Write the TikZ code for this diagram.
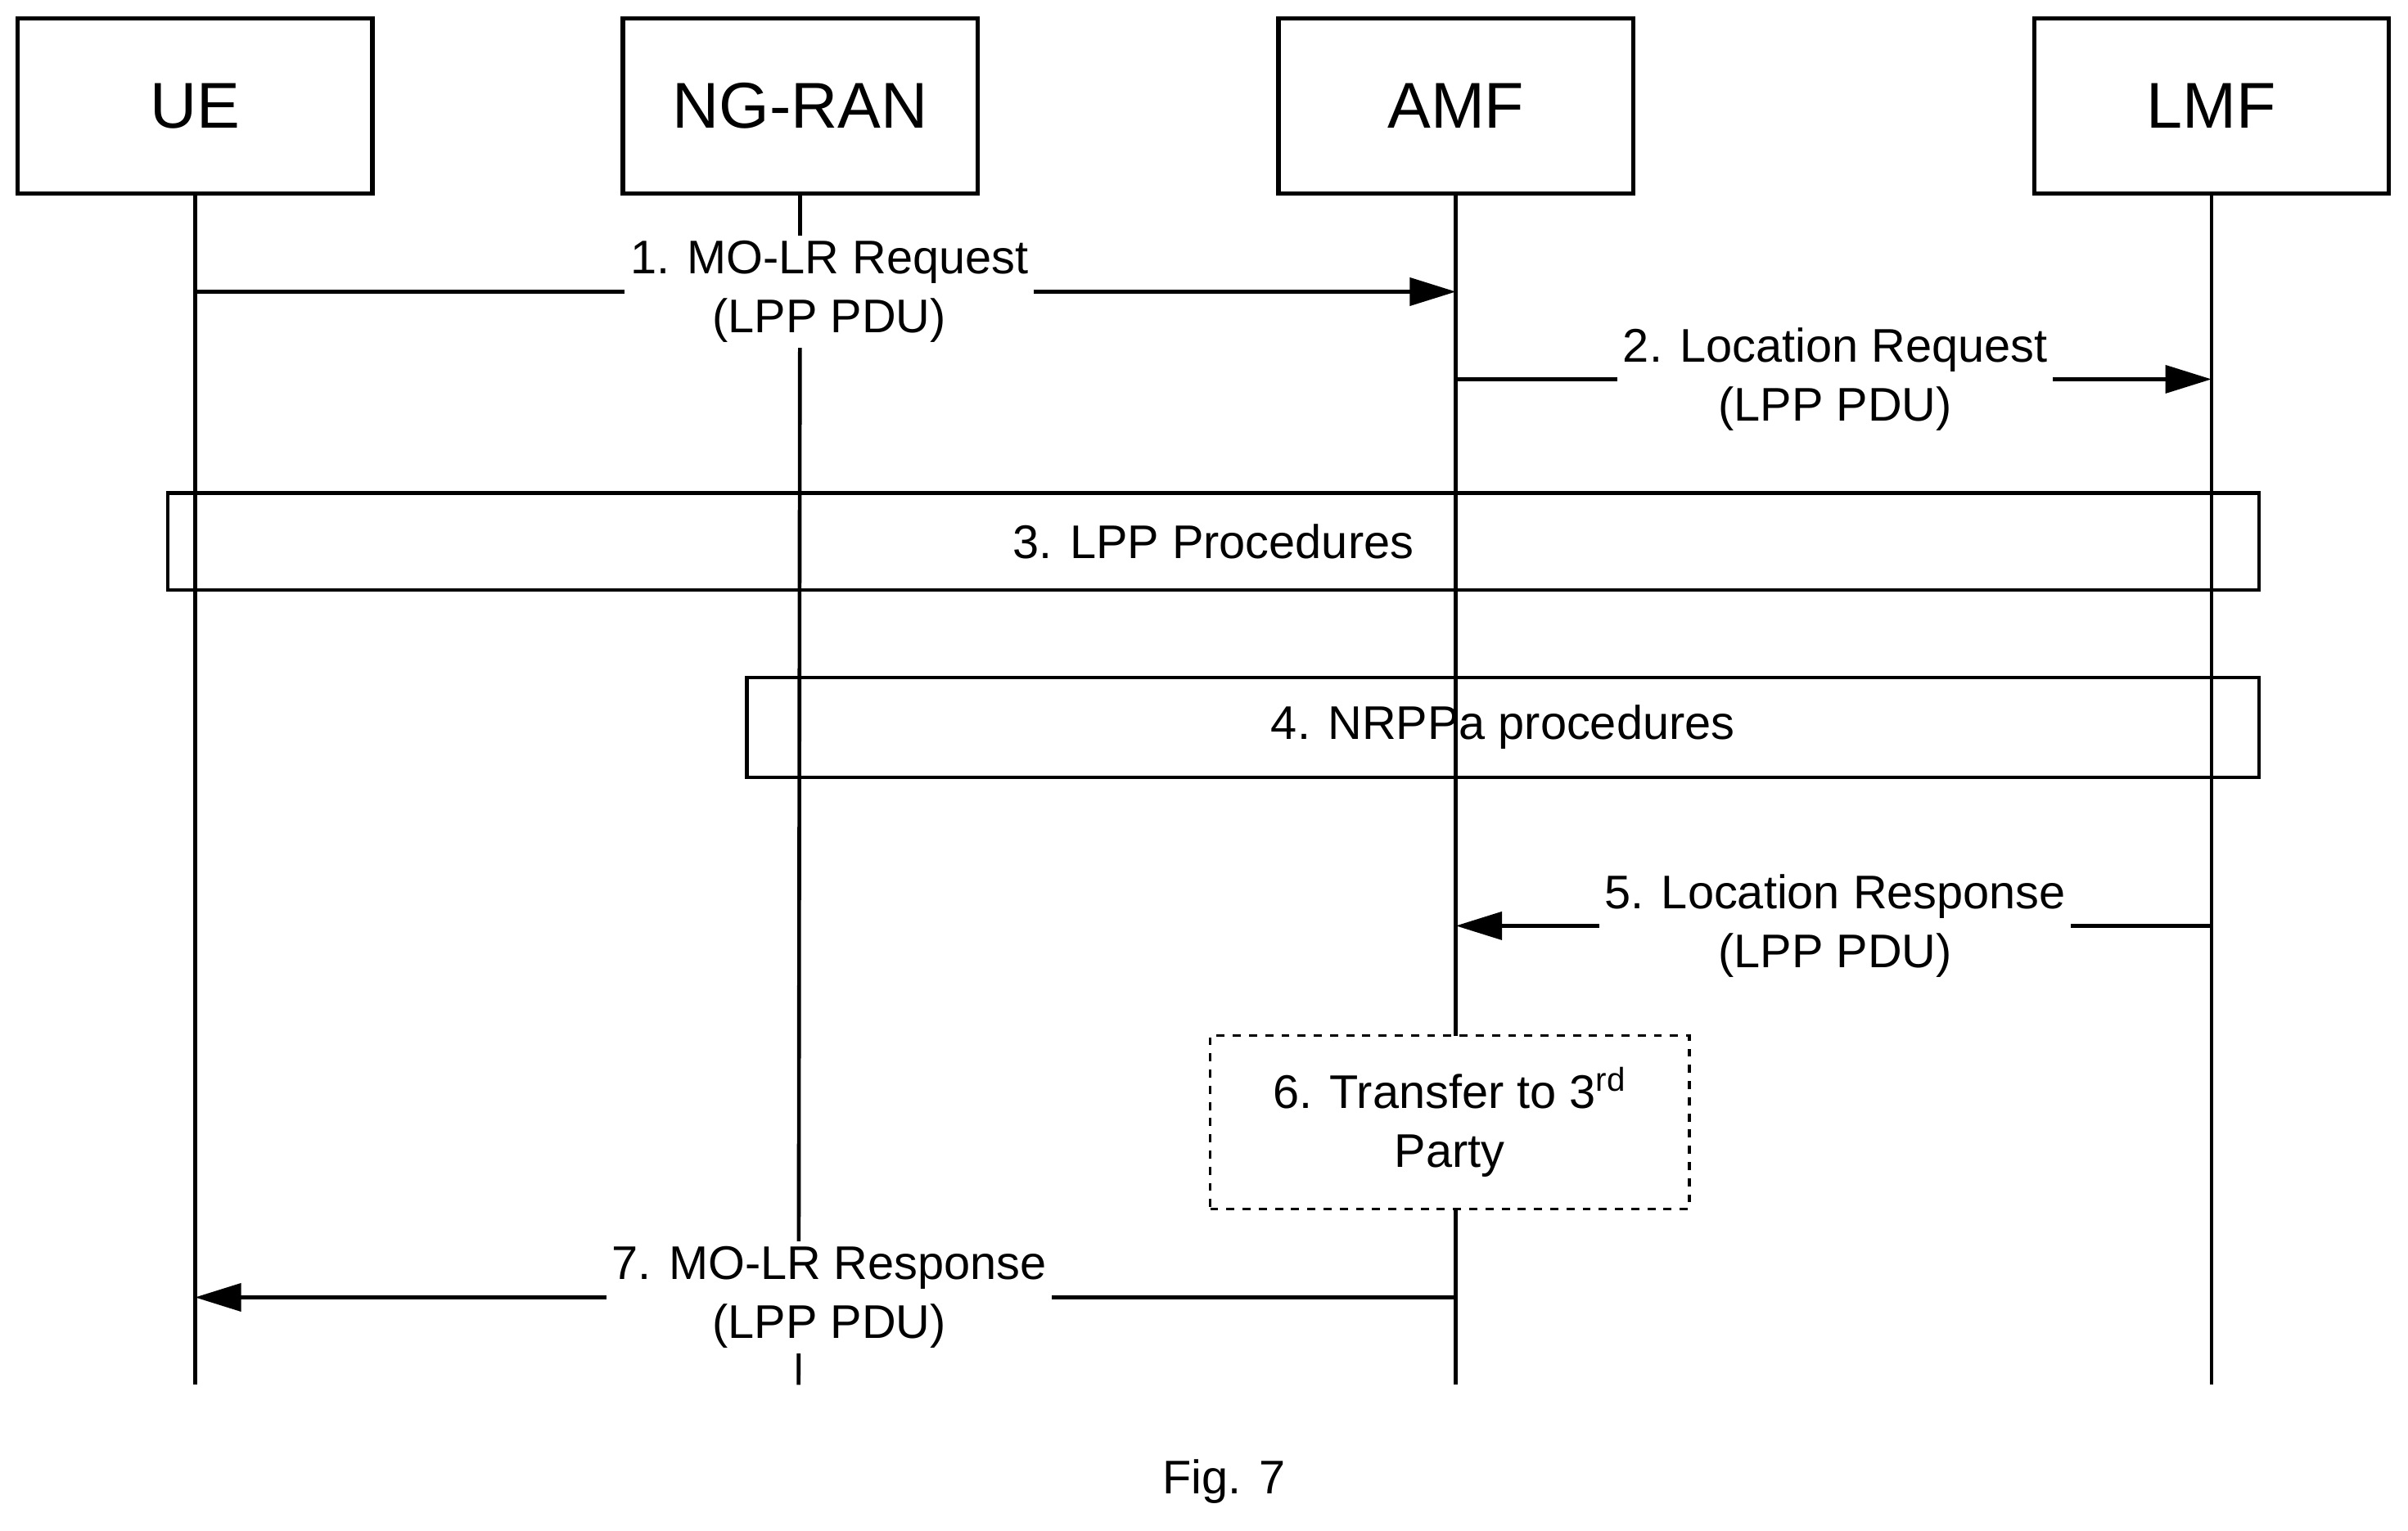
\documentclass[tikz,border=0pt]{standalone}
\usepackage{fontspec}
\setmainfont{Liberation Sans}
\usetikzlibrary{arrows.meta}
\tikzset{
  entity/.style={draw,line width=1.6pt,minimum width=4.62cm,minimum height=2.28cm,font=\fontsize{24}{28}\selectfont},
  life/.style={line width=1.4pt},
  msg/.style={line width=1.4pt,-{Triangle[length=0.6cm,width=0.36cm]}},
  lbl/.style={fill=white,align=center,inner sep=2pt,font=\fontsize{17.5}{22}\selectfont},
  proc/.style={draw,line width=1.4pt,anchor=north west,font=\fontsize{17.5}{22}\selectfont}
}
\begin{document}
\begin{tikzpicture}[x=0.02cm,y=-0.02cm]
\useasboundingbox (0,0) rectangle (1568,997);
% Entities
\node[entity] (ue) at (127,69) {UE};
\node[entity] (ran) at (521,69) {NG-RAN};
\node[entity] (amf) at (948,69) {AMF};
\node[entity] (lmf) at (1440,69) {LMF};

% Lifelines
\coordinate (ueend) at (127,902);
\coordinate (ranend) at (520,902);
\coordinate (amfend) at (948,902);
\coordinate (lmfend) at (1440,902);
\draw[life] (ue.south) -- (ueend);
\draw[life] (ran.south) -- (ranend);
\draw[life] (amf.south) -- (amfend);
\draw[life] (lmf.south) -- (lmfend);

% Message end points
\coordinate (m1a) at (127,190); \coordinate (m1b) at (948,190);
\coordinate (m2a) at (948,247); \coordinate (m2b) at (1440,247);
\coordinate (m5a) at (1440,603); \coordinate (m5b) at (948,603);
\coordinate (m7a) at (948,845); \coordinate (m7b) at (127,845);

% Messages
\draw[msg] (m1a) -- (m1b);
\node[lbl] (l1) at (540,190) {1. MO-LR Request\\(LPP PDU)};
\draw[msg] (m2a) -- (m2b);
\node[lbl] (l2) at (1195,247) {2. Location Request\\(LPP PDU)};

% Procedures
\node[proc,minimum width=27.24cm,minimum height=1.26cm] (p3) at (108,320) {3. LPP Procedures};
\node[proc,minimum width=19.7cm,minimum height=1.3cm] (p4) at (485,440) {4. NRPPa procedures};

\draw[msg] (m5a) -- (m5b);
\node[lbl] (l5) at (1195,603) {5. Location Response\\(LPP PDU)};

\node[draw,dashed,line width=1pt,fill=white,align=center,minimum width=6.24cm,minimum height=2.26cm,font=\fontsize{17.5}{22}\selectfont] (t6) at (944,731) {6. Transfer to 3\textsuperscript{rd}\\Party};

\draw[msg] (m7a) -- (m7b);
\node[lbl] (l7) at (540,845) {7. MO-LR Response\\(LPP PDU)};

\node[font=\fontsize{17.5}{22}\selectfont] (fig) at (797,965) {Fig. 7};
\end{tikzpicture}
\end{document}
